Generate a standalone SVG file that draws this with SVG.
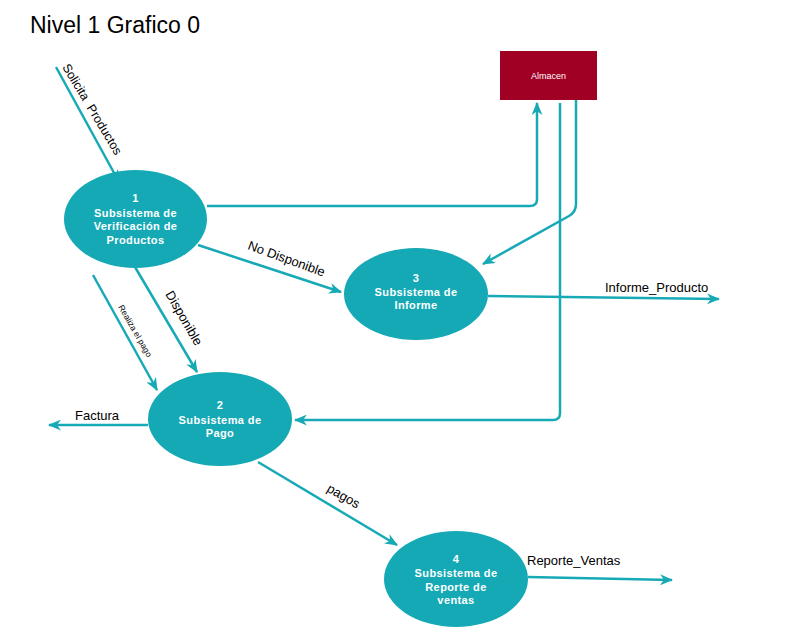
<svg xmlns="http://www.w3.org/2000/svg" width="794" height="641" viewBox="0 0 794 641">
<style>
.bg{fill:#ffffff}
.node{fill:#14a9b5}
.nt{fill:#ffffff;font-family:"Liberation Sans",Arial,sans-serif;font-size:11px;font-weight:bold;text-anchor:middle;letter-spacing:0.4px}
.conn{fill:none;stroke:#17aab6;stroke-width:2.5;marker-end:url(#arr)}
.lbl{fill:#000000;font-family:"Liberation Sans",Arial,sans-serif;font-size:13px}
.title{fill:#000000;font-family:"Liberation Sans",Arial,sans-serif;font-size:23px}
</style>
<defs>
<marker id="arr" viewBox="0 0 12 10" refX="11" refY="5" markerWidth="13" markerHeight="11" markerUnits="userSpaceOnUse" orient="auto">
<path d="M0,0 L12,5 L0,10 L3.5,5 z" fill="#17aab6"/>
</marker>
</defs>
<rect class="bg" x="0" y="0" width="794" height="641"/>
<text class="title" x="30" y="33">Nivel 1 Grafico 0</text>

<g id="connectors">
<path class="conn" d="M56,67 L119,182"/>
<path class="conn" d="M207,206 L530,206 Q537,206 537,199 L537,103"/>
<path class="conn" d="M576,100 L576,204 Q576,212 569,216 L483,264"/>
<path class="conn" d="M560,103 L560,413 Q560,420 553,420 L295,420"/>
<path class="conn" d="M198,245 L341,292"/>
<path class="conn" d="M135,267 L197,372"/>
<path class="conn" d="M93,275 L157,390"/>
<path class="conn" d="M148,425 L49,425"/>
<path class="conn" d="M258,462 L397,545"/>
<path class="conn" d="M488,296 L719,299"/>
<path class="conn" d="M528,577 L672,580"/>
<text class="lbl" xml:space="preserve" style="font-size:12.5px" transform="translate(62,67) rotate(59)">Solicita  Productos</text>
<text class="lbl" transform="translate(247,249) rotate(20)">No Disponible</text>
<text class="lbl" transform="translate(165,294) rotate(60)">Disponible</text>
<text class="lbl" style="font-size:8.5px" transform="translate(118,307) rotate(60)">Realiza el pago</text>
<text class="lbl" x="75" y="420">Factura</text>
<text class="lbl" transform="translate(326,491) rotate(30)">pagos</text>
<text class="lbl" x="605" y="292">Informe_Producto</text>
<text class="lbl" x="527" y="565">Reporte_Ventas</text>
</g>

<g id="almacen">
<rect x="500" y="51" width="97" height="49" fill="#a00024"/>
<text x="548.5" y="79" fill="#ffffff" font-family="'Liberation Sans',Arial,sans-serif" font-size="9" text-anchor="middle">Almacen</text>
</g>

<g id="node1">
<ellipse class="node" cx="135.5" cy="219" rx="71.5" ry="49"/>
<text class="nt" x="135.5" y="202">1</text>
<text class="nt" x="135.5" y="217">Subsistema de</text>
<text class="nt" x="135.5" y="230">Verificación de</text>
<text class="nt" x="135.5" y="244">Productos</text>
</g>

<g id="node3">
<ellipse class="node" cx="416" cy="294" rx="72" ry="46"/>
<text class="nt" x="416" y="282">3</text>
<text class="nt" x="416" y="296">Subsistema de</text>
<text class="nt" x="416" y="309">Informe</text>
</g>

<g id="node2">
<ellipse class="node" cx="220" cy="419" rx="72" ry="47"/>
<text class="nt" x="220" y="409">2</text>
<text class="nt" x="220" y="424">Subsistema de</text>
<text class="nt" x="220" y="437">Pago</text>
</g>

<g id="node4">
<ellipse class="node" cx="456" cy="579" rx="72" ry="48"/>
<text class="nt" x="456" y="563">4</text>
<text class="nt" x="456" y="577">Subsistema de</text>
<text class="nt" x="456" y="591">Reporte de</text>
<text class="nt" x="456" y="604">ventas</text>
</g>
</svg>
